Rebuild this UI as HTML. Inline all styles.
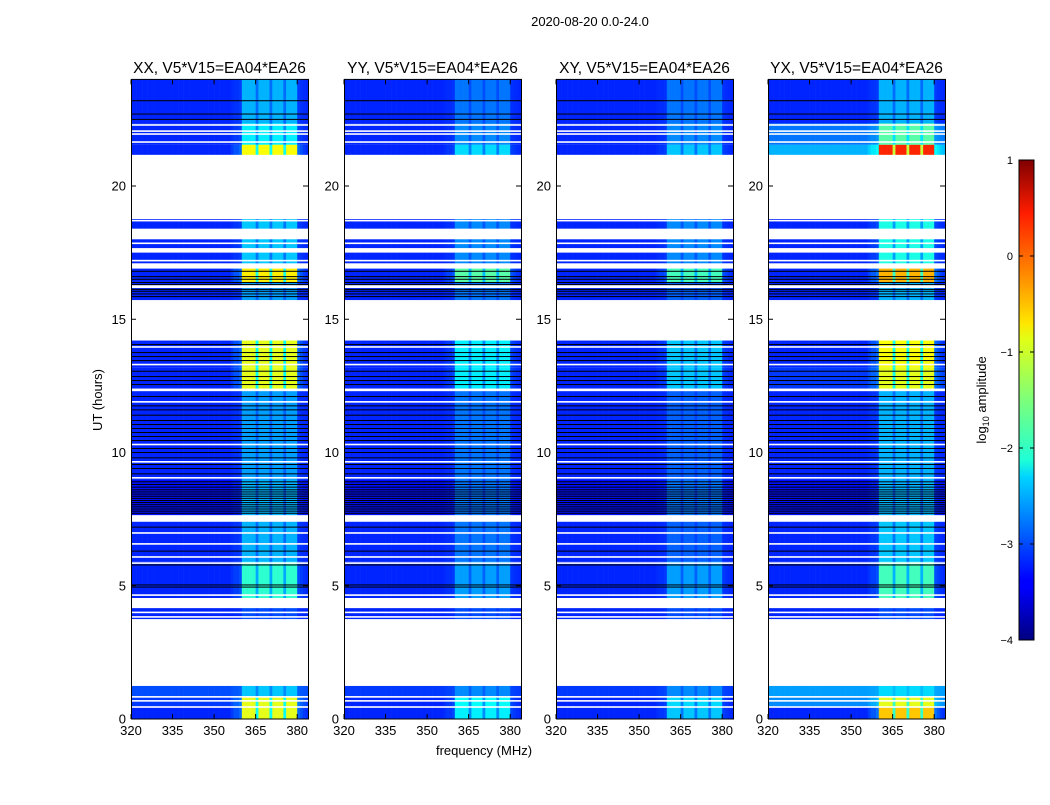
<!DOCTYPE html>
<html><head><meta charset="utf-8">
<style>
html,body{margin:0;padding:0;background:#fff;}
body{width:1050px;height:800px;overflow:hidden;font-family:"Liberation Sans","DejaVu Sans",sans-serif;}
svg text{font-family:"Liberation Sans","DejaVu Sans",sans-serif;fill:#000;}
</style></head>
<body>
<svg id="fig" width="1050" height="800" viewBox="0 0 1050 800" xmlns="http://www.w3.org/2000/svg">
<defs>
<linearGradient id="jet" x1="0" y1="1" x2="0" y2="0">
<stop offset="0" stop-color="#00007f"/><stop offset="0.11" stop-color="#0000ff"/><stop offset="0.125" stop-color="#0000ff"/>
<stop offset="0.34" stop-color="#00d4ff"/><stop offset="0.375" stop-color="#1fffd6"/><stop offset="0.5" stop-color="#7dff7a"/>
<stop offset="0.625" stop-color="#e0ff17"/><stop offset="0.66" stop-color="#ffe600"/><stop offset="0.75" stop-color="#ff9400"/>
<stop offset="0.89" stop-color="#ff1c00"/><stop offset="1" stop-color="#7f0000"/>
</linearGradient>
</defs>
<text x="590" y="26" font-size="13" text-anchor="middle">2020-08-20 0.0-24.0</text>
<text x="0" y="0" font-size="13" text-anchor="middle" transform="translate(102,400) rotate(-90)">UT (hours)</text>
<text x="484" y="755" font-size="13" text-anchor="middle">frequency (MHz)</text>
<g id="panels"></g>
<g id="cbar">
<rect x="1019" y="160" width="15" height="480" fill="url(#jet)" stroke="#000" stroke-width="1"/>
<text font-size="13" text-anchor="middle" transform="translate(986,400) rotate(-90)">log<tspan font-size="9" dy="3">10</tspan><tspan dy="-3"> amplitude</tspan></text>
</g>
</svg>
<script>
// ---- data ----
const panelTitles = ["XX, V5*V15=EA04*EA26","YY, V5*V15=EA04*EA26","XY, V5*V15=EA04*EA26","YX, V5*V15=EA04*EA26"];
const yTicks = [0,5,10,15,20];
const xTicks = [320,335,350,365,380];
const cbarTicks = [1,0,-1,-2,-3,-4];
// time segments with data (hours)
const segStart = [0.0,0.45,0.85,3.75,4.54,5.9,7.65,8.97,12.4,13.2,15.72,16.4,17.1,17.67,18.4,21.17,21.55,22.35];
const segEnd   = [0.45,0.85,1.24,4.16,5.9,7.4,8.97,12.3,13.2,14.2,16.4,16.9,17.5,18.0,18.76,21.55,22.35,24.0];
// background log10 amplitude per panel per segment
const bgXX = [-3.2,-3.1,-3.0,-3.2,-3.2,-3.2,-3.3,-3.2,-3.2,-3.2,-3.2,-3.2,-3.2,-3.2,-3.2,-3.2,-3.2,-3.2];
const bgYY = [-3.2,-3.2,-3.1,-3.2,-3.2,-3.2,-3.3,-3.2,-3.2,-3.2,-3.2,-3.2,-3.2,-3.2,-3.2,-3.2,-3.2,-3.2];
const bgXY = [-3.2,-3.2,-3.1,-3.2,-3.2,-3.2,-3.3,-3.2,-3.2,-3.2,-3.2,-3.2,-3.2,-3.2,-3.2,-3.2,-3.2,-3.2];
const bgYX = [-3.2,-2.7,-2.6,-3.2,-3.2,-3.2,-3.3,-3.2,-3.1,-3.2,-3.2,-3.2,-3.2,-3.2,-3.2,-2.5,-2.8,-3.2];
// RFI peak level per panel per segment
const rfiXX = [-1.0,-1.0,-2.4,-3.0,-1.9,-2.5,-2.5,-2.6,-1.0,-1.0,-2.6,-0.8,-2.4,-2.4,-2.4,-0.9,-2.2,-2.5];
const rfiYY = [-2.2,-2.1,-2.7,-3.0,-2.6,-2.8,-2.8,-2.8,-2.2,-2.2,-2.8,-1.7,-2.7,-2.7,-2.7,-2.3,-2.7,-2.8];
const rfiXY = [-2.4,-2.3,-2.7,-3.0,-2.6,-2.9,-2.8,-2.9,-2.4,-2.4,-2.9,-1.8,-2.7,-2.7,-2.7,-2.4,-2.7,-2.8];
const rfiYX = [-0.6,-1.0,-2.3,-3.0,-1.8,-2.4,-2.5,-2.5,-1.0,-0.9,-2.5,-0.5,-2.0,-2.0,-2.0,0.2,-1.7,-2.5];
// channel weighting, 1 MHz bins starting at 320 MHz
const channelWeight = [0,0,0,0,0,0,0,0,0,0, 0,0,0,0,0,0,0,0,0,0, 0,0,0,0,0,0,0,0,0,0, 0,0,0,0,0,0,0.05,0.1,0.1,0.15,
 1,1,1,1,1,0.5,1,1,1,1, 0.5,1,1,1,1,0.5,1,1,1,1, 0.15,0.1,0.05,0.02];
// flagged rows (hours)
const whiteLines = [0.45,0.68,0.83,3.83,4.0,4.65,5.85,6.08,6.57,6.98,9.05,9.65,10.3,11.9,13.3,13.96,16.2,16.25,17.2,17.85,18.7,21.65,21.95,22.06,22.29];
const blackLines = [4.95,5.03,5.78,6.3,7.2,7.72,7.8,7.88,7.96,8.04,8.12,8.2,8.28,8.36,8.44,8.52,8.6,8.7,8.8,8.9,
 9.2,9.4,9.55,9.8,10.0,10.15,10.45,10.6,10.75,10.9,11.05,11.2,11.4,11.6,11.75,12.1,
 12.55,12.7,12.85,13.05,13.45,13.6,13.75,14.05,15.85,15.95,16.05,16.12,16.3,16.38,16.5,16.6,16.8,22.5,22.7,23.2];
const panelBg = [bgXX,bgYY,bgXY,bgYX];
const panelRfi = [rfiXX,rfiYY,rfiXY,rfiYX];

// ---- layout ----
const panelLeft = [131,344,556,768];
const PW = 177, PT = 79.4, PB = 719;
const fMin = 320, fMax = 383.9, hMax = 24;
const NS = "http://www.w3.org/2000/svg";
function xScale(i,f){return panelLeft[i] + (f-fMin)/(fMax-fMin)*PW;}
function yScale(h){return PB - h/hMax*(PB-PT);}
function cbY(v){return 160 + (1-v)/5*480;}
function jet(v){
  let t = Math.max(0,Math.min(1,(v+4)/5));
  const c=(a)=>Math.max(0,Math.min(1,a));
  let r=c(Math.min(4*t-1.5,-4*t+4.5)), g=c(Math.min(4*t-0.5,-4*t+3.5)), b=c(Math.min(4*t+0.5,-4*t+2.5));
  return "rgb("+Math.round(r*255)+","+Math.round(g*255)+","+Math.round(b*255)+")";
}
function mk(tag,attrs,parent){const e=document.createElementNS(NS,tag);for(const k in attrs)e.setAttribute(k,attrs[k]);parent.appendChild(e);return e;}

const root = document.getElementById("panels");
for(let p=0;p<4;p++){
  const g = mk("g",{},root);
  
  
  for(let s=0;s<segStart.length;s++){
    const y0=yScale(segEnd[s]), y1=yScale(segStart[s]);
    for(let c=0;c<channelWeight.length;c++){
      const f0=fMin+c, f1=Math.min(fMin+c+1,fMax);
      const v = panelBg[p][s] + channelWeight[c]*(panelRfi[p][s]-panelBg[p][s]);
      const r = mk("rect",{x:xScale(p,f0).toFixed(2),y:y0.toFixed(2),width:(xScale(p,f1)-xScale(p,f0)+0.3).toFixed(2),height:(y1-y0).toFixed(2),fill:jet(v)},g);
      
      
    }
  }
  for(const h of whiteLines){
    const l=mk("rect",{x:panelLeft[p],y:(yScale(h)-0.8).toFixed(2),width:PW,height:1.6,fill:"#fff"},g);
    
    
  }
  for(const h of blackLines){
    const l=mk("rect",{x:panelLeft[p],y:(yScale(h)-0.5).toFixed(2),width:PW,height:1,fill:"#000"},g);
    
    
  }
  const fr=mk("rect",{x:panelLeft[p]+0.5,y:PT,width:PW,height:PB-PT,fill:"none",stroke:"#000","stroke-width":1},g);
  
  
  const t=mk("text",{x:panelLeft[p]+PW/2,y:73,"font-size":15.5,"text-anchor":"middle"},g);
  t.textContent=panelTitles[p];
  
  
  for(const h of yTicks){
    const y=yScale(h);
    mk("line",{x1:panelLeft[p],x2:panelLeft[p]+5,y1:y,y2:y,stroke:"#000"},g);
    mk("line",{x1:panelLeft[p]+PW-5,x2:panelLeft[p]+PW,y1:y,y2:y,stroke:"#000"},g);
    const tl=mk("text",{x:panelLeft[p]-5,y:y+4.5,"font-size":13,"text-anchor":"end"},g);
    tl.textContent=h;
    
    
  }
  for(const f of xTicks){
    const x=xScale(p,f);
    mk("line",{x1:x,x2:x,y1:PB,y2:PB-5,stroke:"#000"},g);
    mk("line",{x1:x,x2:x,y1:PT,y2:PT+5,stroke:"#000"},g);
    const tl=mk("text",{x:x,y:PB+16,"font-size":13,"text-anchor":"middle"},g);
    tl.textContent=f;
    
    
  }
}
const cb=document.getElementById("cbar");
for(const v of cbarTicks){
  const y=cbY(v);
  mk("line",{x1:1019,x2:1023,y1:y,y2:y,stroke:"#000"},cb);
  mk("line",{x1:1030,x2:1034,y1:y,y2:y,stroke:"#000"},cb);
  const tl=mk("text",{x:1013,y:y+4,"font-size":11,"text-anchor":"end"},cb);
  tl.textContent=(v<0?"\u2212"+(-v):String(v));
  
  
}
</script>
</body></html>
